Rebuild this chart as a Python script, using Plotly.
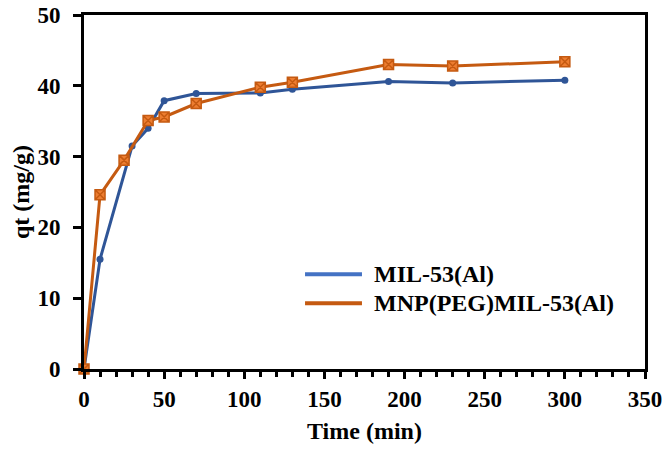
import plotly.graph_objects as go

time_mil = [0, 10, 30, 40, 50, 70, 110, 130, 190, 230, 300]
qt_mil = [0, 15.5, 31.5, 34.0, 37.9, 38.9, 39.0, 39.5, 40.6, 40.4, 40.8]

time_mnp = [0, 10, 25, 40, 50, 70, 110, 130, 190, 230, 300]
qt_mnp = [0, 24.6, 29.5, 35.1, 35.6, 37.5, 39.8, 40.5, 43.0, 42.8, 43.4]

names = ["MIL-53(Al)", "MNP(PEG)MIL-53(Al)"]
line_colors = ["#2F5597", "#C55A11"]
legend_colors = ["#4472C4", "#C55A11"]

FONT = "Liberation Serif"
TICK_SIZE = 23
TITLE_SIZE = 24

fig = go.Figure()
fig.add_trace(go.Scatter(
    x=time_mil, y=qt_mil, mode="lines+markers", name=names[0], showlegend=False,
    line=dict(color=line_colors[0], width=3),
    marker=dict(symbol="circle", size=7, color=line_colors[0]),
))
fig.add_trace(go.Scatter(
    x=time_mnp, y=qt_mnp, mode="lines+markers", name=names[1], showlegend=False,
    line=dict(color=line_colors[1], width=3),
    marker=dict(symbol="square-x", size=10, color="#ED7D31",
                line=dict(color="#C55A11", width=1.5)),
))

# legend drawn as line samples + labels (the reference uses long line samples)
legend_y = [0.268, 0.186]
for n, c, yy in zip(names, legend_colors, legend_y):
    fig.add_shape(type="line", xref="paper", yref="paper",
                  x0=0.394, x1=0.4955, y0=yy, y1=yy,
                  line=dict(color=c, width=4))
    fig.add_annotation(xref="paper", yref="paper", x=0.513, y=yy,
                       xanchor="left", yanchor="middle", showarrow=False,
                       text=n, font=dict(family=FONT, size=TITLE_SIZE,
                                         color="black", weight="bold"))

fig.update_layout(
    width=667, height=450,
    margin=dict(l=84, r=22, t=15, b=81),
    plot_bgcolor="white", paper_bgcolor="white",
    font=dict(family=FONT, size=TICK_SIZE, color="black"),
    showlegend=False,
)
fig.update_xaxes(
    range=[0, 350], tickvals=[0, 50, 100, 150, 200, 250, 300, 350],
    showline=True, linecolor="black", linewidth=3, mirror=True,
    ticks="outside", ticklen=7, tickwidth=3, tickcolor="black",
    minor=dict(dtick=10, ticks="outside", ticklen=5, tickwidth=3, tickcolor="black"),
    showgrid=False, zeroline=False, automargin=False,
    ticklabelstandoff=0,
    tickfont=dict(family=FONT, size=TICK_SIZE, weight="bold"),
    title=dict(text="Time (min)", font=dict(family=FONT, size=TITLE_SIZE, weight="bold"), standoff=12),
)
fig.update_yaxes(
    range=[0, 50], tickvals=[0, 10, 20, 30, 40, 50],
    showline=True, linecolor="black", linewidth=3, mirror=True,
    ticks="outside", ticklen=8, tickwidth=3, tickcolor="black",
    showgrid=False, zeroline=False, automargin=False,
    ticklabelstandoff=8,
    tickfont=dict(family=FONT, size=TICK_SIZE, weight="bold"),
    title=dict(text="qt (mg/g)", font=dict(family=FONT, size=TITLE_SIZE, weight="bold"), standoff=2),
)
fig.update_traces(cliponaxis=False)
fig.write_html("out.html")
